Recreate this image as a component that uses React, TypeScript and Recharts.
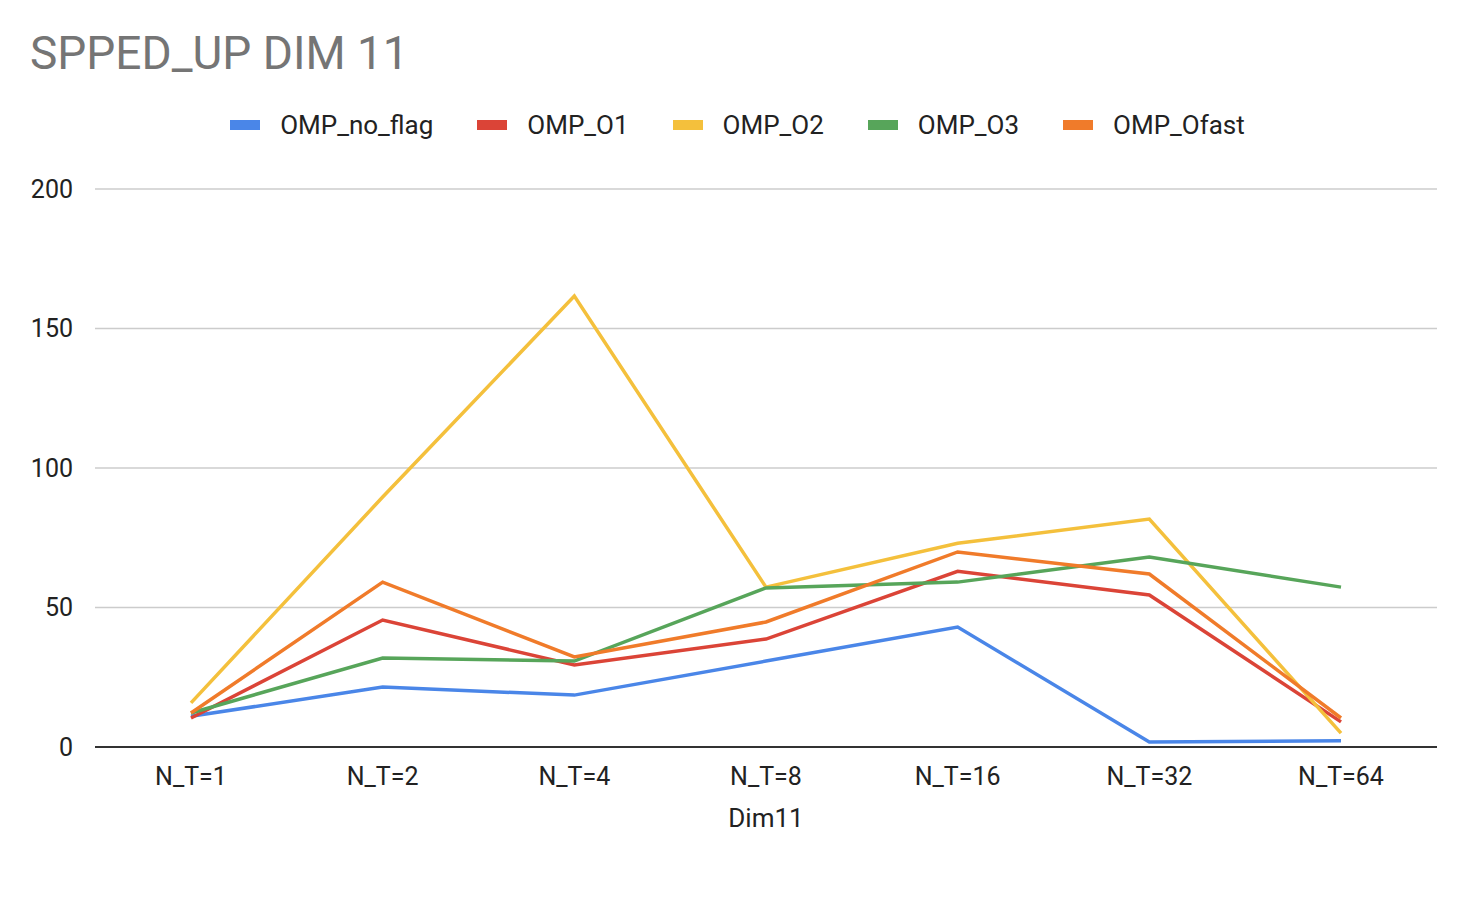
import { LineChart, Line, XAxis, YAxis, CartesianGrid } from 'recharts';

const categories = ['N_T=1', 'N_T=2', 'N_T=4', 'N_T=8', 'N_T=16', 'N_T=32', 'N_T=64'];
const noFlag = [11, 21.5, 18.6, 30.8, 43, 1.8, 2.2];
const o1 = [10.4, 45.5, 29.4, 38.7, 63, 54.5, 9];
const o2 = [15.8, 89.6, 161.6, 57.3, 73, 81.7, 5];
const o3 = [12.2, 31.9, 30.8, 57, 59.1, 68.1, 57.3];
const ofast = [12.2, 59.1, 32.3, 44.8, 69.9, 62, 10.4];
const yTicks = [0, 50, 100, 150, 200];

const series = [
  { key: 'OMP_no_flag', color: '#4a86e8' },
  { key: 'OMP_O1', color: '#db4437' },
  { key: 'OMP_O2', color: '#f4c03c' },
  { key: 'OMP_O3', color: '#57a55a' },
  { key: 'OMP_Ofast', color: '#f07b2a' },
];

const data = categories.map((name, i) => ({
  name,
  OMP_no_flag: noFlag[i],
  OMP_O1: o1[i],
  OMP_O2: o2[i],
  OMP_O3: o3[i],
  OMP_Ofast: ofast[i],
}));

const font = 'Roboto, Arial, sans-serif';

export default function App() {
  return (
    <div style={{ position: 'relative', width: 1471, height: 909, margin: -8, fontFamily: font, background: '#fff' }}>
      <div style={{ position: 'absolute', left: 30, top: 26, fontSize: 46, color: '#757575' }}>SPPED_UP DIM 11</div>
      <div style={{ position: 'absolute', top: 110, left: 0, width: 1471, display: 'flex', justifyContent: 'center', gap: 40, fontSize: 26, color: '#222' }}>
        {series.map((s) => (
          <div key={s.key} style={{ display: 'flex', alignItems: 'center', gap: 20, marginLeft: 4 }}>
            <span style={{ display: 'inline-block', width: 30, height: 10, background: s.color }} />
            <span>{s.key}</span>
          </div>
        ))}
      </div>
      <LineChart width={1471} height={909} data={data} margin={{ top: 189, right: 34, left: 0, bottom: 82 }}>
        <CartesianGrid vertical={false} stroke="#cccccc" strokeWidth={1.5} />
        <XAxis
          dataKey="name"
          padding={{ left: 96, right: 96 }}
          axisLine={{ stroke: '#333', strokeWidth: 2 }}
          tickLine={false}
          tick={{ fontSize: 25, fill: '#222', fontFamily: font }}
          tickMargin={14}
          height={80}
          label={{ value: 'Dim11', position: 'insideBottom', offset: 0, fontSize: 26, fill: '#222', fontFamily: font }}
        />
        <YAxis
          domain={[0, 200]}
          ticks={yTicks}
          axisLine={false}
          tickLine={false}
          width={95}
          tick={{ fontSize: 25, fill: '#222', fontFamily: font }}
          tickMargin={16}
        />
        {series.map((s) => (
          <Line key={s.key} type="linear" dataKey={s.key} stroke={s.color} strokeWidth={3.5} dot={false} isAnimationActive={false} />
        ))}
      </LineChart>
    </div>
  );
}
